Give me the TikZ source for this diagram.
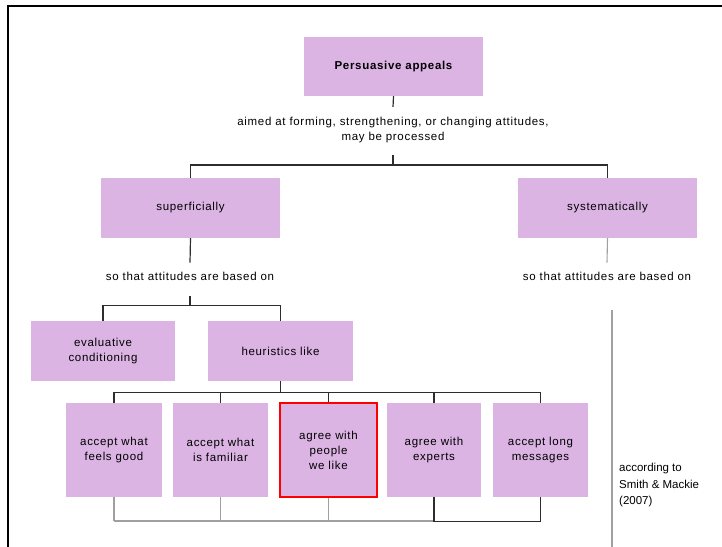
\documentclass[tikz,border=0pt]{standalone}
\usepackage{fontspec}
\setmainfont{Liberation Sans}
\newfontfamily\boxfont[LetterSpace=6]{Liberation Sans}
\usetikzlibrary{calc}
\definecolor{boxfill}{RGB}{219,180,228}
\definecolor{darkline}{RGB}{45,45,45}
\definecolor{greyline}{RGB}{160,160,160}
\tikzset{
  pbox/.style={rectangle, fill=boxfill, inner sep=0pt, align=center,
    font=\boxfont\fontsize{11.5}{15}\selectfont},
  lbl/.style={inner sep=0pt, align=center, font=\boxfont\fontsize{11.5}{15}\selectfont},
  conn/.style={draw=darkline, line width=1.2pt},
  gconn/.style={draw=greyline, line width=1.5pt},
}
\begin{document}
\begin{tikzpicture}[x=1pt,y=-1pt]
\useasboundingbox (0,0) rectangle (722,546);
% frame
\draw[line width=2.6pt, black] (8,550) -- (8,6) -- (726,6);

% top
\node[pbox, minimum width=179pt, minimum height=59pt, font=\boxfont\bfseries\fontsize{11.5}{15}\selectfont] (pa) at (393.5,66.5) {Persuasive appeals};
\node[lbl] (aim) at (393,130) {aimed at forming, strengthening, or changing attitudes,\\may be processed};

\node[pbox, minimum width=179pt, minimum height=60pt] (sup) at (190.5,208) {superficially};
\node[pbox, minimum width=179pt, minimum height=60pt] (sys) at (607.5,208) {systematically};

\node[lbl] (sol) at (190,276) {so that attitudes are based on};
\node[lbl] (sor) at (607,276) {so that attitudes are based on};

\node[pbox, minimum width=144pt, minimum height=60pt] (ev) at (103,351) {evaluative\\conditioning};
\node[pbox, minimum width=145pt, minimum height=60pt] (he) at (280.5,351) {heuristics like};

\node[pbox, minimum width=96pt, minimum height=94pt] (b1) at (114,450) {accept what\\feels good};
\node[pbox, minimum width=95pt, minimum height=94pt] (b2) at (220.5,450) {accept what\\is familiar};
\node[pbox, minimum width=97pt, minimum height=94pt, draw=red, line width=1.6pt] (b3) at (328.5,450) {agree with\\people\\we like};
\node[pbox, minimum width=94pt, minimum height=94pt] (b4) at (434,450) {agree with\\experts};
\node[pbox, minimum width=95pt, minimum height=94pt] (b5) at (540.5,450) {accept long\\messages};

\node[lbl, align=left, anchor=north west, font=\fontsize{11.5}{16.5}\selectfont] (src) at (619,463) {according to\\Smith \& Mackie\\(2007)};

\coordinate (rv1) at (612,310);
\coordinate (rv2) at (612,548);

% connectors
\draw[conn] (pa.south) -- ([yshift=10pt]aim.north);
\draw[conn] ([yshift=-12pt]aim.south) -- ++(0,10) coordinate (hub1);
\draw[conn] (sup.north) |- (hub1) -| (sys.north);

\draw[conn] (sup.south) -- ([yshift=9pt]sol.north);
\draw[gconn, line width=1.1pt] (sys.south) -- ([yshift=9pt]sor.north);
\draw[conn] ([yshift=-16pt]sol.south) -- ++(0,9) coordinate (hub2);
\draw[conn] (ev.north) |- (hub2) -| (he.north);

\draw[conn] (he.south) -- ++(0,11) coordinate (hub3);
\draw[conn] (b1.north) |- (hub3) -| (b5.north);
\draw[conn] (b2.north) -- (b2.north |- hub3);
\draw[conn] (b3.north) -- (b3.north |- hub3);
\draw[conn] (b4.north) -- (b4.north |- hub3);

% bottom connectors
\draw[gconn] (b1.south) -- ++(0,24) coordinate (bt);
\draw[gconn] (b1.south |- bt) -- (b4.south |- bt);
\draw[gconn] (b2.south) -- (b2.south |- bt);
\draw[gconn] (b3.south) -- (b3.south |- bt);
\draw[conn] (b4.south) -- (b4.south |- bt) -- (b5.south |- bt) -- (b5.south);

\draw[gconn] (rv1) -- (rv2);
\end{tikzpicture}
\end{document}
